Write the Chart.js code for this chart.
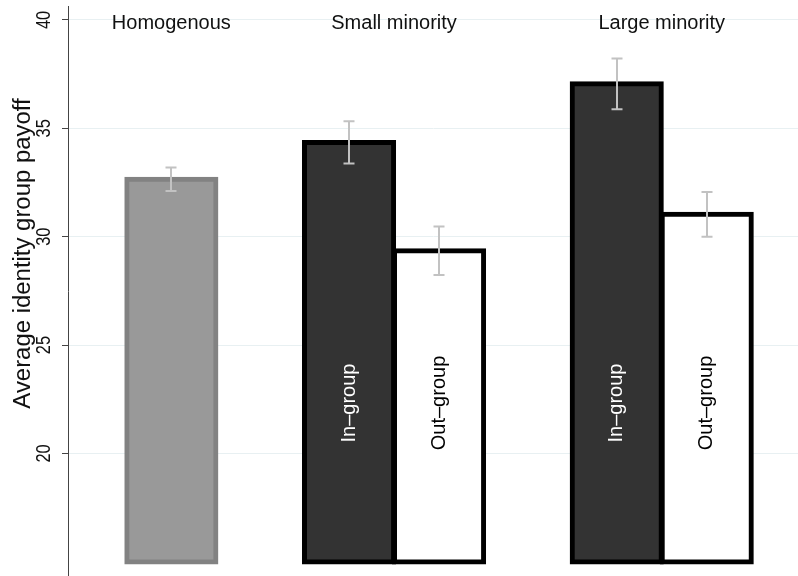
<!DOCTYPE html>
<html><head><meta charset="utf-8">
<script src="https://cdn.jsdelivr.net/npm/chart.js@4/dist/chart.umd.min.js"></script>
<style>html,body{margin:0;padding:0;background:#fff;} canvas{display:block;}</style>
</head><body>
<canvas id="c" width="798" height="576"></canvas>
<script>
// ---- data ----
const groups = ['Homogenous', 'Small minority', 'Large minority'];
const barLabels = ['In–group', 'Out–group'];
const yTitle = 'Average identity group payoff';
const yTicks = [20, 25, 30, 35, 40];
const barBase = 15;
const homogenousMean = [32.65];
const homogenousErr = [0.54];
const inGroupMean = [34.35, 37.05];
const inGroupErr = [0.98, 1.17];
const outGroupMean = [29.35, 31.03];
const outGroupErr = [1.12, 1.03];

// ---- build datasets (x = group position 1..3) ----
const inData = inGroupMean.map((v, i) => ({x: i + 2, y: v, err: inGroupErr[i]}));
const rightData = [{x: 1, y: homogenousMean[0], err: homogenousErr[0], homog: true}]
  .concat(outGroupMean.map((v, i) => ({x: i + 2, y: v, err: outGroupErr[i]})));

const FONT = '"Liberation Sans", Arial, Helvetica, sans-serif';

const decorPlugin = {
  id: 'decor',
  afterDatasetsDraw(chart) {
    const ctx = chart.ctx;
    const ys = chart.scales.y;
    // error bars
    ctx.save();
    ctx.strokeStyle = '#c2c2c2';
    ctx.lineWidth = 2;
    chart.data.datasets.forEach((ds, di) => {
      const meta = chart.getDatasetMeta(di);
      meta.data.forEach((el, i) => {
        const d = ds.data[i];
        const yt = ys.getPixelForValue(d.y + d.err);
        const yb = ys.getPixelForValue(d.y - d.err);
        const x = Math.round(el.x);
        ctx.beginPath();
        ctx.moveTo(x, yt); ctx.lineTo(x, yb);
        ctx.moveTo(x - 5.5, yt); ctx.lineTo(x + 5.5, yt);
        ctx.moveTo(x - 5.5, yb); ctx.lineTo(x + 5.5, yb);
        ctx.stroke();
      });
    });
    ctx.restore();

    // labels inside bars
    ctx.save();
    ctx.font = '20px ' + FONT;
    ctx.textAlign = 'center';
    ctx.textBaseline = 'middle';
    chart.data.datasets.forEach((ds, di) => {
      const meta = chart.getDatasetMeta(di);
      meta.data.forEach((el, i) => {
        const d = ds.data[i];
        if (d.homog) return;
        ctx.save();
        ctx.translate(el.x, 403);
        ctx.rotate(-Math.PI / 2);
        ctx.fillStyle = di === 0 ? '#ffffff' : '#000000';
        ctx.fillText(barLabels[di], 0, 0);
        ctx.restore();
      });
    });
    ctx.restore();
  },
  afterDraw(chart) {
    const ctx = chart.ctx;
    const ys = chart.scales.y;
    // group labels centred over visible bars
    ctx.save();
    ctx.font = '20px ' + FONT;
    ctx.fillStyle = '#111';
    ctx.textAlign = 'center';
    ctx.textBaseline = 'alphabetic';
    groups.forEach((g, gi) => {
      const xs = [];
      chart.data.datasets.forEach((ds, di) => {
        const meta = chart.getDatasetMeta(di);
        ds.data.forEach((d, i) => { if (d.x === gi + 1) xs.push(meta.data[i].x); });
      });
      const cx = xs.reduce((a, b) => a + b, 0) / xs.length;
      ctx.fillText(g, cx, 28.5);
    });
    ctx.restore();

    // rotated y tick labels
    ctx.save();
    ctx.fillStyle = '#111';
    ctx.font = '21px ' + FONT;
    ctx.textAlign = 'center';
    ctx.textBaseline = 'alphabetic';
    yTicks.forEach(t => {
      ctx.save();
      ctx.translate(49.5, ys.getPixelForValue(t));
      ctx.rotate(-Math.PI / 2);
      ctx.scale(0.78, 1);
      ctx.fillText(String(t), 0, 0);
      ctx.restore();
    });
    ctx.restore();

    // y axis title
    ctx.save();
    ctx.fillStyle = '#111';
    ctx.font = '23px ' + FONT;
    ctx.textAlign = 'center';
    ctx.textBaseline = 'alphabetic';
    ctx.translate(29.5, 253.5);
    ctx.rotate(-Math.PI / 2);
    ctx.scale(1.04, 1);
    ctx.fillText(yTitle, 0, 0);
    ctx.restore();
  }
};

new Chart(document.getElementById('c'), {
  type: 'bar',
  data: {
    datasets: [
      {
        label: barLabels[0],
        data: inData,
        base: barBase,
        backgroundColor: '#333333',
        borderColor: '#000000',
        borderWidth: 5,
        borderSkipped: false,
        inflateAmount: 2.5
      },
      {
        label: barLabels[1],
        data: rightData,
        base: barBase,
        backgroundColor: rightData.map(d => d.homog ? '#999999' : '#ffffff'),
        borderColor: rightData.map(d => d.homog ? '#828282' : '#000000'),
        borderWidth: 5,
        borderSkipped: false,
        inflateAmount: 2.5
      }
    ]
  },
  options: {
    responsive: false,
    animation: false,
    devicePixelRatio: 1,
    categoryPercentage: 0.6724,
    barPercentage: 0.99,
    layout: {padding: {top: 6, right: 0, bottom: 0, left: 0}},
    plugins: {legend: {display: false}, tooltip: {enabled: false}},
    scales: {
      x: {
        type: 'linear',
        display: false,
        offset: false,
        min: 0.782,
        max: 3.509,
        afterBuildTicks: (s) => { s.ticks = [1, 2, 3].map(v => ({value: v})); }
      },
      y: {
        type: 'linear',
        min: 14.35,
        max: 40.64,
        afterBuildTicks: (s) => { s.ticks = yTicks.map(v => ({value: v})); },
        afterFit: (s) => { s.width = 68; },
        ticks: {display: false},
        grid: {color: '#e8f0f2', lineWidth: 1, tickLength: 6, tickColor: '#444', drawTicks: true},
        border: {color: '#444', width: 1}
      }
    }
  },
  plugins: [decorPlugin]
});
</script>
</body></html>
